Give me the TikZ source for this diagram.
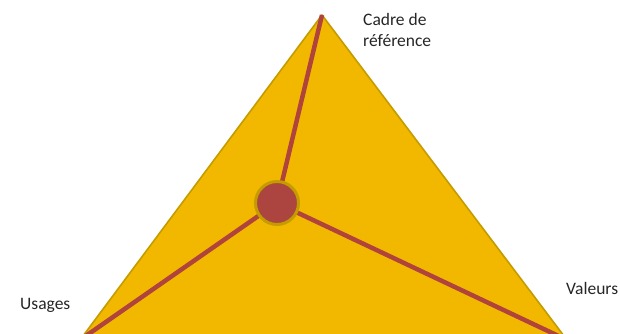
\documentclass[tikz,border=0pt]{standalone}
\usepackage{fontspec}
\setmainfont{Carlito}
\definecolor{TriFill}{HTML}{F2B800}
\definecolor{TriEdge}{HTML}{C49C00}
\definecolor{Spoke}{HTML}{B0443C}
\definecolor{HubFill}{HTML}{AC4540}
\tikzset{every node/.style={font=\fontsize{17.5}{21}\selectfont},
 face/.style={fill=TriFill,draw=TriEdge,line width=1.6pt,line join=round},
 spoke/.style={draw=Spoke,line width=4.5pt},
 hub/.style={circle,fill=HubFill,draw=TriEdge,line width=3pt,minimum size=43pt,inner sep=0pt},
 lab/.style={align=left,inner sep=0pt,text=black!85}}
\begin{document}
\begin{tikzpicture}[x=1pt,y=-1pt]
\useasboundingbox (0,0) rectangle (620,333);
\clip (0,0) rectangle (620,333);
\coordinate (top) at (322,15);
\coordinate (left) at (80,340);
\coordinate (right) at (567,340);
\coordinate (mid) at (277,203);
\draw[face] (top)--(right)--(left)--cycle;
\foreach \c in {top,left,right}\draw[spoke] (mid)--(\c);
\node[hub] (core) at (mid) {};
\node[lab,anchor=north west] (cadre) at (363,13) {Cadre de\\référence};
\node[lab,anchor=base west] (usages) at (20,309) {Usages};
\node[lab,anchor=base west] (valeurs) at (566,294) {Valeurs};
\end{tikzpicture}
\end{document}
